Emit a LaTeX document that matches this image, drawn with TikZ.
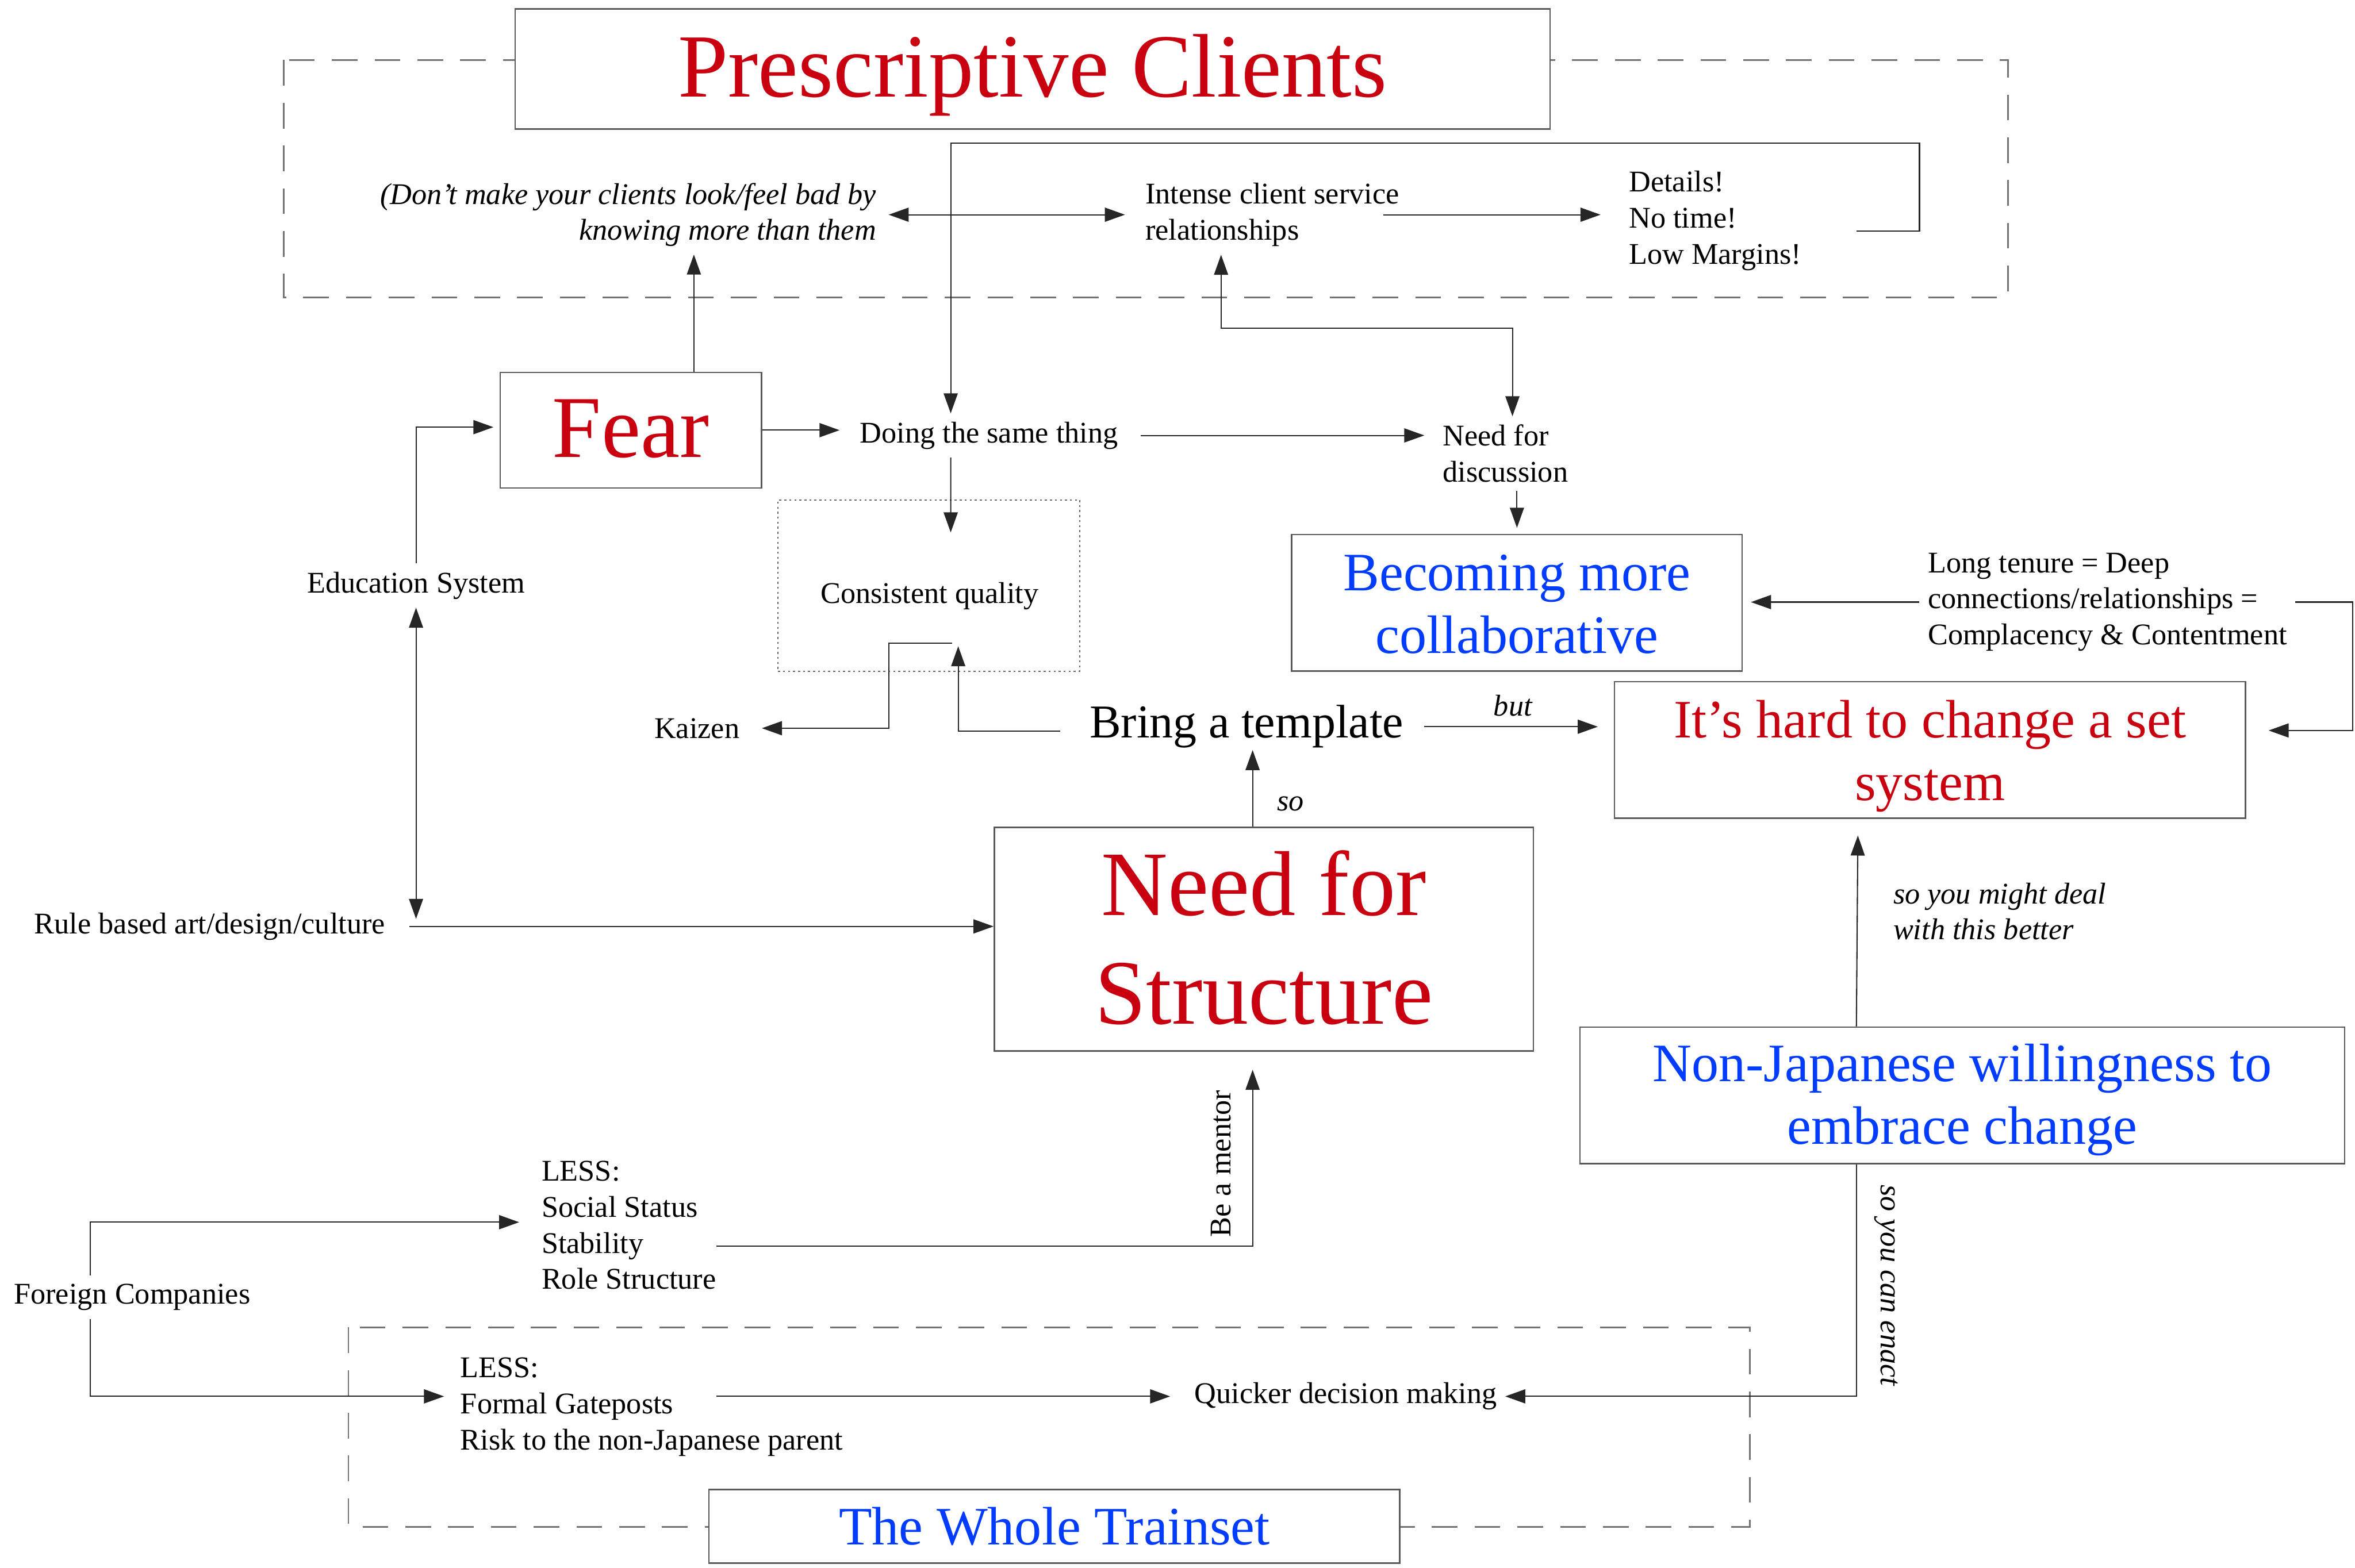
\documentclass[tikz,border=0pt]{standalone}
\usepackage{fontspec}
\setmainfont{Liberation Serif}
\usetikzlibrary{arrows.meta,calc,fit}
\definecolor{cred}{RGB}{200,0,15}
\definecolor{cblue}{RGB}{0,60,255}
\begin{document}
\begin{tikzpicture}[x=0.0263329cm, y=-0.0263329cm,
  every node/.style={inner sep=4pt},
  txt/.style={font=\fontsize{15}{18}\selectfont},
  itxt/.style={font=\fontsize{15}{18}\selectfont\itshape},
  box/.style={draw=black!65, line width=0.7pt, inner sep=0pt, fill=white},
  frame/.style={draw=black!55, line width=0.8pt, dash pattern=on 0.45cm off 0.3cm},
  dotframe/.style={draw=black!60, line width=0.6pt, dash pattern=on 1pt off 1.5pt, inner sep=0pt},
  bigred/.style={text=cred, align=center},
  midblue/.style={text=cblue, align=center, font=\fontsize{27}{31.4}\selectfont},
  midred/.style={text=cred, align=center, font=\fontsize{27}{31.4}\selectfont},
  arr/.style={-{Triangle[length=10pt,width=7pt]}, line width=0.6pt, draw=black!85},
  dbl/.style={{Triangle[length=10pt,width=7pt]}-{Triangle[length=10pt,width=7pt]}, line width=0.6pt, draw=black!85},
]
\useasboundingbox (0,0) rectangle (1568,1044);

% grouping frames
\draw[frame] (189,40) rectangle (1337,198);
\draw[frame] (232,884) rectangle (1165,1017);

% boxed concepts
\node[box, fit={(343,6) (1032,86)}] (pc) {};
\node[bigred, font=\fontsize{45}{54}\selectfont] (pctext) at ($(pc.center)+(0,4)$) {Prescriptive Clients};

\node[box, fit={(333,248) (507,325)}] (fear) {};
\node[bigred, font=\fontsize{44}{53}\selectfont] (feartext) at ($(fear.center)+(0,-1)$) {Fear};

\node[box, fit={(662,551) (1021,700)}] (nfs) {};
\node[bigred, font=\fontsize{46}{54}\selectfont] (nfstext) at ($(nfs.center)+(0,-1)$) {Need for\\Structure};

\node[box, fit={(860,356) (1160,447)}] (becoming) {};
\node[midblue] (becomingtext) at ($(becoming.center)+(0,1)$) {Becoming more\\collaborative};

\node[box, fit={(1075,454) (1495,545)}] (hard) {};
\node[midred] (hardtext) at ($(hard.center)+(0,4)$) {It's hard to change a set\\system};

\node[box, fit={(1052,684) (1561,775)}] (nonjap) {};
\node[midblue] (nonjaptext) at ($(nonjap.center)+(0,3)$) {Non-Japanese willingness to\\embrace change};

\node[box, fit={(472,992) (932,1041)}] (train) {};
\node[midblue] (traintext) at (train.center) {The Whole Trainset};

\node[dotframe, fit={(518,333) (719,447)}] (cqbox) {};
\node[txt] (cq) at (619,397) {Consistent quality};

% plain text concepts
\node[itxt, align=right, anchor=east] (dont) at (589,143) {(Don't make your clients look/feel bad by\\knowing more than them};
\node[txt, align=left, anchor=west] (ics) at (757,143) {Intense client service\\relationships};
\node[txt, align=left, anchor=west] (details) at (1079,147) {Details!\\No time!\\Low Margins!};
\node[txt, anchor=west] (doing) at (567,290) {Doing the same thing};
\node[txt, align=left, anchor=west] (disc) at (955,302) {Need for\\discussion};
\node[txt, align=left, anchor=west] (tenure) at (1278,401) {Long tenure = Deep\\connections/relationships =\\Complacency \& Contentment};
\node[txt] (edu) at (277,390) {Education System};
\node[txt] (kaizen) at (464,485) {Kaizen};
\node[font=\fontsize{23.5}{28}\selectfont] (bring) at (830,484) {Bring a template};
\node[txt, anchor=east] (rule) at (262,617) {Rule based art/design/culture};
\node[txt] (foreign) at (88,864) {Foreign Companies};
\node[txt, align=left, anchor=west] (less1) at (355,816) {LESS:\\Social Status\\Stability\\Role Structure};
\node[txt, align=left, anchor=west] (less2) at (301,937) {LESS:\\Formal Gateposts\\Risk to the non-Japanese parent};
\node[txt] (quick) at (896,930) {Quicker decision making};

% connectors in the client frame
\draw[dbl, shorten <=2pt, shorten >=6pt] (dont.east) -- (ics.west);
\draw[arr, shorten >=10pt] ($(ics.east)+(-16,0)$) -- (ics.east -| details.west);
\draw[arr] ($(details.east)+(31,7)$) -| ($(pc.south)+(590.5,9)$) -| ($(doing.north west)+(66,0)$);
\draw[arr] ($(fear.north)+(42,0)$) -- ($(fear.north)+(42,-78)$);
\draw[dbl] ($(ics.south west)+(56,0)$) |- ($(becoming.north)+(-3,-137)$) -- ($(becoming.north |- disc.north)+(-3,0)$);

% middle band
\draw[arr, shorten >=6pt] (fear.east) -- (fear.east -| doing.west);
\draw[arr, shorten <=7pt, shorten >=5pt] (doing.east) -- (doing.east -| disc.west);
\draw[arr] ($(doing.south west)+(66,0)$) -- ($(cqbox.north)+(14.5,22)$);
\draw[arr, shorten >=3pt] (becoming.north |- disc.south) -- (becoming.north);
\draw[arr, shorten >=4pt] (tenure.west) -- (tenure.west -| becoming.east);
\draw[arr] (tenure.east) -| ($(hard.east)+(71,-13)$) -- ($(hard.east)+(15,-13)$);
\draw[arr, shorten >=3pt] (edu.north) |- ($(fear.west)+(0,-2)$);
\draw[dbl] (edu.south) -- ($(edu.south |- rule.east)+(0,-5)$);
\draw[arr] ($(bring.west)+(-14,3)$) -| ($(cqbox.south)+(19.5,-17)$);
\draw[arr, shorten >=7pt] ($(cqbox.south)+(15.5,-19)$) -| ($(kaizen.east)+(94,0)$) -- (kaizen.east);
\draw[arr, shorten <=6pt, shorten >=8pt] (bring.east) -- (bring.east -| hard.west)
  node[midway, above=1pt, itxt] {but};
\draw[arr] ($(nfs.north)+(-7.5,0)$) -- ($(nfs.north)+(-7.5,-51)$)
  node[pos=0.3, right=8pt, itxt] {so};
\draw[arr, shorten <=8pt] (rule.east) -- (rule.east -| nfs.west);

% right column
\draw[arr] ($(nonjap.north)+(-70.5,0)$) -- ($(hard.south)+(-48,11)$);
\node[itxt, align=left, anchor=west] (mightlbl) at (1255,607) {so you might deal\\with this better};
\draw[arr] ($(nonjap.south)+(-70.5,0)$) |- (quick.east);
\node[itxt, rotate=-90] (enactlbl) at (1256,856) {so you can enact};

% lower band
\draw[arr, shorten >=8pt] ($(less2.west |- quick.west)+(176,0)$) -- (quick.west);
\draw[arr, shorten >=7pt] ($(foreign.north)+(-28,0)$) |- ($(less1.west)+(0,-2)$);
\draw[arr, shorten >=4pt] ($(foreign.south)+(-28,0)$) |- (less2.west |- quick.west);
\draw[arr] ($(less1.west)+(122,14)$) -| ($(nfs.south)+(-7.5,12)$);
\node[txt, rotate=90] (mentor) at (813,775) {Be a mentor};
\end{tikzpicture}
\end{document}
